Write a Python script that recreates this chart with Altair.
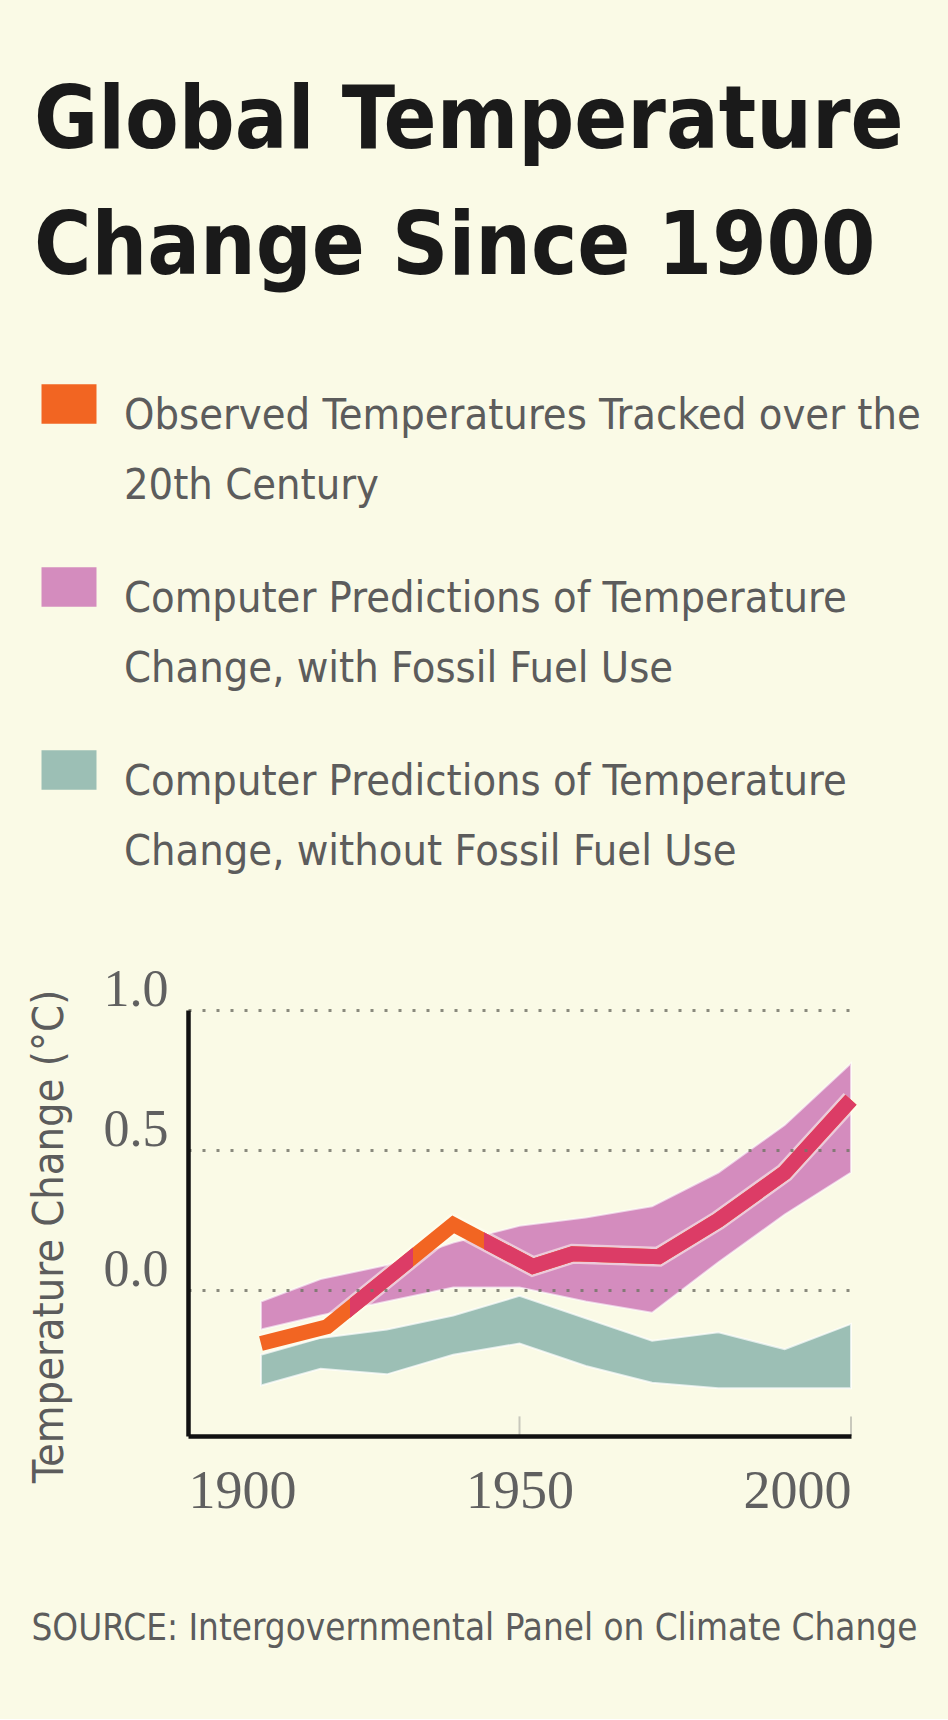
import altair as alt
import pandas as pd

# ---------------- data ----------------
band_years = [1911, 1920, 1930, 1940, 1950, 1960, 1970, 1980, 1990, 2000]
with_fossil_hi = [-0.04, 0.04, 0.09, 0.17, 0.23, 0.26, 0.30, 0.42, 0.59, 0.81]
with_fossil_lo = [-0.14, -0.09, -0.04, 0.01, 0.01, -0.04, -0.08, 0.10, 0.27, 0.42]
without_fossil_hi = [-0.23, -0.17, -0.14, -0.09, -0.02, -0.10, -0.18, -0.15, -0.21, -0.12]
without_fossil_lo = [-0.34, -0.28, -0.30, -0.23, -0.19, -0.27, -0.33, -0.35, -0.35, -0.35]

obs_years = [1911, 1921, 1940, 1952, 1958, 1971, 1980, 1990, 2000]
obs_values = [-0.19, -0.13, 0.235, 0.085, 0.13, 0.12, 0.25, 0.42, 0.68]
# years where the observed line enters / leaves the pink band (colour change)
overlap_changes = [1924.5, 1934.0, 1944.6]

tick_years = [1950, 2000]
x_label_years = [1900, 1950, 2000]
y_label_values = [0.0, 0.5, 1.0]

series_keys = ["observed", "with", "without"]
series_labels = [
    "Observed Temperatures Tracked over the\n20th Century",
    "Computer Predictions of Temperature\nChange, with Fossil Fuel Use",
    "Computer Predictions of Temperature\nChange, without Fossil Fuel Use",
]
series_colors = ["#F26522", "#D48CBE", "#9CBFB5"]
overlap_color = "#DC3C66"

title_lines = ["Global Temperature", "Change Since 1900"]
y_title = "Temperature Change (°C)"
source_text = "SOURCE: Intergovernmental Panel on Climate Change"

# ---------------- styling ----------------
SANS = "DejaVu Sans Condensed"
SERIF = "Liberation Serif"
BG = "#FAFAE6"
GRAY = "#5c5c5c"

cscale = alt.Scale(domain=series_keys, range=series_colors)

with_df = pd.DataFrame({"year": band_years, "lo": with_fossil_lo, "hi": with_fossil_hi, "series": "with"})
without_df = pd.DataFrame({"year": band_years, "lo": without_fossil_lo, "hi": without_fossil_hi, "series": "without"})
obs_df = pd.DataFrame({"year": obs_years, "lo": obs_values, "series": "observed"})
tick_df = pd.DataFrame({"year": tick_years})

x_axis = alt.Axis(
    values=x_label_years, format="d", labelFont=SERIF, labelFontSize=54, labelColor="#606060",
    labelBaseline="top", labelPadding=28, ticks=False, tickSize=0, grid=False,
    domainColor="#111111", domainWidth=4.5,
    title=source_text, titleFont=SANS, titleFontSize=36.5, titleFontWeight="normal", titleColor=GRAY,
    titleX=-157, titleY=203, titleAlign="left", titleBaseline="alphabetic", titleAngle=0,
    zindex=1,
)
y_axis = alt.Axis(
    values=y_label_values, format=".1f", labelFont=SERIF, labelFontSize=52, labelColor="#606060",
    labelBaseline="alphabetic", labelOffset=-5, labelPadding=20, ticks=False, tickSize=0,
    domainColor="#111111", domainWidth=4.5,
    grid=True, gridColor="#76766a", gridWidth=3, gridDash=[3, 11], gridOpacity=0.85,
    title=y_title, titleFont=SANS, titleFontSize=43, titleFontWeight="normal", titleColor=GRAY,
    titleX=-160, titleY=226, titleAngle=270, titleAlign="center", titleBaseline="top",
    zindex=1,
)

X = alt.X("year:Q", scale=alt.Scale(domain=[1900, 2000], nice=False, zero=False), axis=x_axis)
Y = alt.Y("lo:Q", scale=alt.Scale(domain=[-0.52, 1.0], nice=False, zero=False), axis=y_axis)
C = alt.Color("series:N", scale=cscale, legend=None)

without_band = alt.Chart(without_df).mark_area(opacity=1, stroke="#ffffff", strokeWidth=2, strokeOpacity=0.7).encode(
    x=X, y=Y, y2="hi:Q", color=C)
with_band = alt.Chart(with_df).mark_area(opacity=1, stroke="#ffffff", strokeWidth=2, strokeOpacity=0.6).encode(
    x=X, y=Y, y2="hi:Q", color=C)
casing = alt.Chart(obs_df).mark_line(stroke="#FFFDF0", strokeWidth=20, opacity=0.55).encode(x=X, y=Y)
observed = alt.Chart(obs_df).mark_line(strokeWidth=15).encode(x=X, y=Y, color=C)

span = obs_years[-1] - obs_years[0]
o1, o2, o3 = [(c - obs_years[0]) / span for c in overlap_changes]
clear = "rgba(220,60,102,0)"
grad = alt.LinearGradient(
    gradient="linear", x1=0, x2=1, y1=0, y2=0,
    stops=[
        alt.GradientStop(offset=0, color=clear), alt.GradientStop(offset=o1, color=clear),
        alt.GradientStop(offset=o1, color=overlap_color), alt.GradientStop(offset=o2, color=overlap_color),
        alt.GradientStop(offset=o2, color=clear), alt.GradientStop(offset=o3, color=clear),
        alt.GradientStop(offset=o3, color=overlap_color), alt.GradientStop(offset=1, color=overlap_color),
    ],
)
overlap = alt.Chart(obs_df).mark_line(strokeWidth=15, stroke=grad).encode(x=X, y=Y)

inner_ticks = alt.Chart(tick_df).mark_rule(color="#c8c8bc", strokeWidth=2).encode(
    x=X, y=alt.datum(-0.52, type="quantitative"), y2=alt.datum(-0.45))

main = alt.layer(without_band, with_band, casing, observed, overlap, inner_ticks).properties(width=663, height=426)

# ---------------- legend panel ----------------
legend_df = pd.DataFrame({"series": series_keys, "label": series_labels})
LY = alt.Y("series:N", sort=series_keys, scale=alt.Scale(type="point", padding=0), axis=None)
swatches = alt.Chart(legend_df).mark_point(
    shape="M-1,-0.72H1V0.72H-1Z", filled=True, opacity=1, size=3025, strokeWidth=0, yOffset=-25
).encode(x=alt.value(-119), y=LY, color=C)
texts = alt.Chart(legend_df).mark_text(
    align="left", baseline="alphabetic", lineBreak="\n", lineHeight=70, font=SANS, fontSize=43, color=GRAY
).encode(x=alt.value(-64), y=LY, text="label:N")
legend_panel = alt.layer(swatches, texts).properties(width=760, height=366)

chart = alt.vconcat(legend_panel, main, spacing=89).properties(
    title=alt.TitleParams(
        title_lines, anchor="start", font=SANS, fontSize=87, fontWeight="bold", color="#1a1a1a",
        lineHeight=126, offset=92, dx=6,
    ),
    padding={"left": 27, "top": 78, "right": 0, "bottom": 72},
    background=BG,
).configure_view(stroke=None).configure_concat(spacing=89)

chart.save("out.html", embed_options={"renderer": "svg", "actions": False})
